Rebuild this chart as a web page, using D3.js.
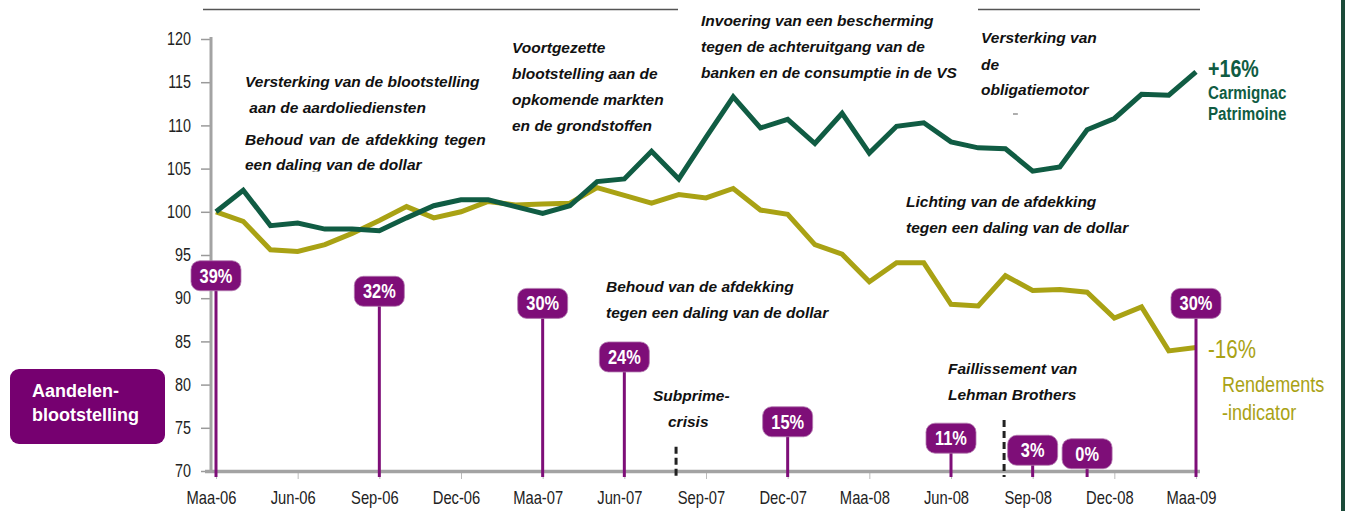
<!DOCTYPE html>
<html>
<head>
<meta charset="utf-8">
<script src="https://cdn.jsdelivr.net/npm/d3@7"></script>
<style>
  body { margin: 0; background: #fff; }
  svg { display: block; font-family: "Liberation Sans", Arial, sans-serif; }
</style>
</head>
<body>
<svg id="chart"></svg>
<script>
(function() {

// monthly index values, Maa-06 .. Maa-09 (37 months)
const carmignac = [100, 102.5, 98.4, 98.7, 98.0, 98.0, 97.8, 99.3, 100.7, 101.4, 101.4, 100.6, 99.8,
    100.7, 103.5, 103.8, 107.0, 103.8, 108.6, 113.3, 109.7, 110.7, 107.9, 111.4, 106.8,
    109.9, 110.3, 108.1, 107.4, 107.3, 104.7, 105.2, 109.5, 110.8, 113.6, 113.5, 116.2];
const rendements = [100, 98.9, 95.6, 95.4, 96.2, 97.5, 99.0, 100.6, 99.3, 100.0, 101.2, 100.8, 100.9,
    101.0, 102.8, 101.9, 101.0, 102.0, 101.6, 102.7, 100.2, 99.7, 96.2, 95.1, 91.9,
    94.1, 94.1, 89.3, 89.1, 92.6, 90.9, 91.0, 90.7, 87.7, 89.0, 83.9, 84.3];

const xTickLabels = ["Maa-06", "Jun-06", "Sep-06", "Dec-06", "Maa-07", "Jun-07", "Sep-07",
    "Dec-07", "Maa-08", "Jun-08", "Sep-08", "Dec-08", "Maa-09"];
const yTicks = [70, 75, 80, 85, 90, 95, 100, 105, 110, 115, 120];

// equity exposure bubbles: month index, label, level (index units) of the bubble
const exposureMonth = [0, 6, 12, 15, 21, 27, 30, 32, 36];
const exposureLabel = ["39%", "32%", "30%", "24%", "15%", "11%", "3%", "0%", "30%"];
const exposureLevel = [92.6, 90.8, 89.4, 83.2, 75.7, 73.8, 72.4, 72.0, 89.4];

// dashed event markers: month index, top level
const eventMonth = [16.9, 28.95];
const eventTop = [72.8, 75.9];

const colorGreen = "#105c43";
const colorOlive = "#a9a214";
const colorPurple = "#7e0e78";
const colorAxis = "#a3a3a3";

const width = 1345, height = 511;
const svg = d3.select("#chart").attr("width", width).attr("height", height);

// no condensed face installed: squeeze the regular one
const squeeze = 0.82;

function narrowText(g, x, y, txt, size, weight, fill, anchor) {
    return g.append("text")
        .attr("font-size", size)
        .attr("font-weight", weight || "normal")
        .attr("fill", fill || "#222")
        .attr("text-anchor", anchor || "start")
        .attr("transform", `translate(${x},${y}) scale(${squeeze},1)`)
        .text(txt);
}

const x = d3.scaleLinear().domain([0, 36]).range([216, 1196]);
const y = d3.scaleLinear().domain([70, 120]).range([471, 39]);

// top rules + right border
svg.append("line").attr("x1", 203).attr("x2", 678).attr("y1", 9.5).attr("y2", 9.5)
    .attr("stroke", "#555").attr("stroke-width", 1.3);
svg.append("line").attr("x1", 978).attr("x2", 1200).attr("y1", 9.5).attr("y2", 9.5)
    .attr("stroke", "#555").attr("stroke-width", 1.3);
svg.append("rect").attr("x", 1341).attr("y", 0).attr("width", 4).attr("height", height)
    .attr("fill", "#1b4a39");

// Y axis
const yAxis = svg.append("g")
    .attr("transform", "translate(211,0)")
    .call(d3.axisLeft(y).tickValues(yTicks).tickSize(10).tickPadding(10));
yAxis.select(".domain").remove();
yAxis.selectAll(".tick line").attr("stroke", "#9a9a9a").attr("stroke-width", 1.5);
yAxis.selectAll(".tick text").attr("font-size", 17.5).attr("fill", "#222")
    .attr("font-family", "Liberation Sans")
    .attr("x", -20 / squeeze)
    .attr("transform", `scale(${squeeze},1)`);
svg.append("line").attr("x1", 211).attr("x2", 211).attr("y1", 37).attr("y2", 472)
    .attr("stroke", colorAxis).attr("stroke-width", 3);

// X axis
const xAxis = svg.append("g")
    .attr("transform", "translate(0,472)")
    .call(d3.axisBottom(x).tickValues(d3.range(0, 37, 3)).tickSize(7)
        .tickFormat((d, i) => xTickLabels[i]));
xAxis.select(".domain").remove();
xAxis.selectAll(".tick line").attr("stroke", "#bbb").attr("stroke-width", 1);
xAxis.selectAll(".tick text").attr("font-size", 18).attr("fill", "#222")
    .attr("font-family", "Liberation Sans")
    .attr("y", 32).attr("dy", 0)
    .attr("x", -5 / squeeze)
    .attr("transform", `scale(${squeeze},1)`);
svg.append("line").attr("x1", 205).attr("x2", 1200).attr("y1", 471.5).attr("y2", 471.5)
    .attr("stroke", colorAxis).attr("stroke-width", 3.5);

// series
const line = d3.line()
    .x((d, i) => x(i))
    .y(d => y(d));

svg.append("path")
    .attr("d", line(rendements))
    .attr("fill", "none")
    .attr("stroke", colorOlive)
    .attr("stroke-width", 5)
    .attr("stroke-linejoin", "miter");

svg.append("path")
    .attr("d", line(carmignac))
    .attr("fill", "none")
    .attr("stroke", colorGreen)
    .attr("stroke-width", 5)
    .attr("stroke-linejoin", "miter");

// dashed event lines
eventMonth.forEach((m, i) => {
    svg.append("line")
        .attr("x1", x(m)).attr("x2", x(m))
        .attr("y1", y(eventTop[i])).attr("y2", 477)
        .attr("stroke", "#222")
        .attr("stroke-width", 3)
        .attr("stroke-dasharray", "7,4");
});

// exposure stems + bubbles
const boxW = 50, boxH = 30;
exposureMonth.forEach((m, i) => {
    const cx = x(m), cy = y(exposureLevel[i]);
    svg.append("line")
        .attr("x1", cx).attr("x2", cx)
        .attr("y1", cy).attr("y2", 477)
        .attr("stroke", colorPurple)
        .attr("stroke-width", 3);
    svg.append("rect")
        .attr("x", cx - boxW / 2).attr("y", cy - boxH / 2)
        .attr("width", boxW).attr("height", boxH)
        .attr("rx", 9)
        .attr("fill", colorPurple)
        .attr("stroke", "#b27aae")
        .attr("stroke-width", 0.8);
    narrowText(svg, cx, cy + 7, exposureLabel[i], 20, "bold", "#fff", "middle");
});

// annotations
const notes = svg.append("g")
    .attr("font-size", 15.5)
    .attr("font-weight", "bold")
    .attr("font-style", "italic")
    .attr("fill", "#111");

svg.append("clipPath").attr("id", "clipDollar")
    .append("rect").attr("x", 200).attr("y", 150).attr("width", 320).attr("height", 21.5);

function note(xp, lines) {
    lines.forEach(([txt, yp]) => {
        notes.append("text").attr("x", xp).attr("y", yp).text(txt);
    });
}

note(245, [["Versterking van de blootstelling", 86.5], ["\u00a0aan de aardoliediensten", 112.5]]);
notes.append("text").attr("x", 245).attr("y", 144.5).attr("word-spacing", 1.8)
    .text("Behoud van de afdekking tegen");
notes.append("text").attr("x", 245).attr("y", 170).attr("clip-path", "url(#clipDollar)")
    .text("een daling van de dollar");
note(512, [["Voortgezette", 52.5], ["blootstelling aan de", 79], ["opkomende markten", 105], ["en de grondstoffen", 130.5]]);
note(701, [["Invoering van een bescherming", 25.5], ["tegen de achteruitgang van de", 51.5], ["banken en de consumptie in de VS", 77.5]]);
note(981, [["Versterking van", 42.5], ["de", 69.5], ["obligatiemotor", 94.5]]);
note(906, [["Lichting van de afdekking", 206.5], ["tegen een daling van de dollar", 232.5]]);
note(606, [["Behoud van de afdekking", 291.5], ["tegen een daling van de dollar", 317.5]]);
note(653, [["Subprime-", 400.5]]);
note(668, [["crisis", 426.5]]);
note(948, [["Faillissement van", 373.5], ["Lehman Brothers", 399.5]]);

// stray mark below obligatiemotor
svg.append("line").attr("x1", 1013).attr("x2", 1018).attr("y1", 114).attr("y2", 114)
    .attr("stroke", "#777").attr("stroke-width", 1.2);

// end labels
narrowText(svg, 1208, 77, "+16%", 24, "bold", colorGreen);
narrowText(svg, 1208, 98.5, "Carmignac", 18.5, "bold", colorGreen);
narrowText(svg, 1208, 119.5, "Patrimoine", 18.5, "bold", colorGreen);
narrowText(svg, 1208, 358, "-16%", 25, "normal", colorOlive);
narrowText(svg, 1222, 392, "Rendements", 22, "normal", colorOlive);
narrowText(svg, 1222, 420, "-indicator", 22, "normal", colorOlive);

// legend box for the exposure bubbles
svg.append("rect")
    .attr("x", 10).attr("y", 369).attr("width", 155).attr("height", 75)
    .attr("rx", 9).attr("fill", "#760070");
svg.append("text").attr("x", 32).attr("y", 397).attr("font-size", 18).attr("font-weight", "bold")
    .attr("fill", "#fff").text("Aandelen-");
svg.append("text").attr("x", 32).attr("y", 421).attr("font-size", 18).attr("font-weight", "bold")
    .attr("fill", "#fff").text("blootstelling");

})();
</script>
</body>
</html>
